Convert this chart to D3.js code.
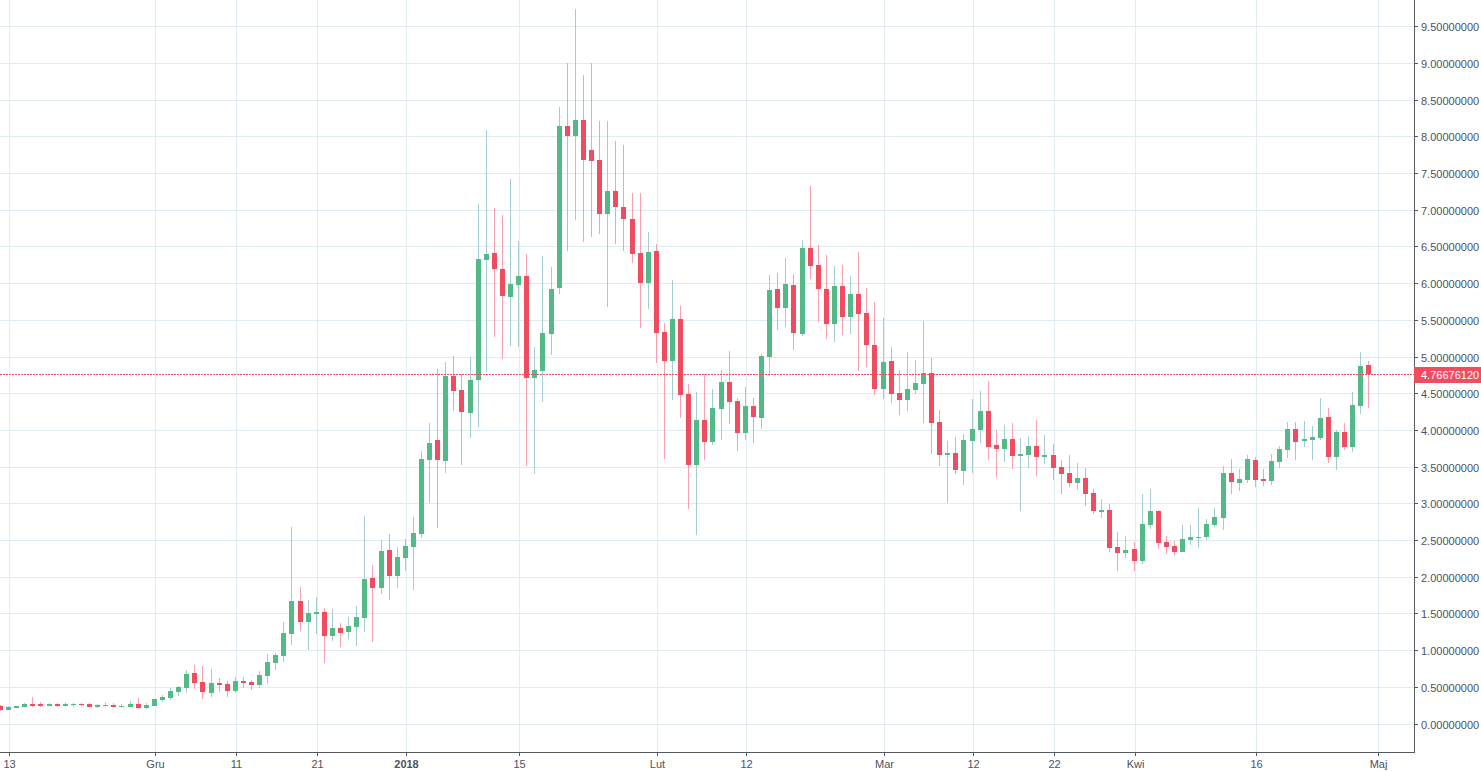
<!DOCTYPE html>
<html><head><meta charset="utf-8">
<script src="https://cdnjs.cloudflare.com/ajax/libs/d3/7.8.5/d3.min.js"></script>
<style>
html,body{margin:0;padding:0;background:#fff;overflow:hidden}
svg{display:block}
text{font-family:"Liberation Sans",Arial,sans-serif;font-size:11px;fill:#4c525e}
</style></head><body>
<svg id="c" width="1481" height="771"></svg>
<script>
// Daily candles, first candle 12 Nov 2017, last 30 Apr 2018
const firstDay = "2017-11-12";
const opens = [.25,.191,.223,.232,.277,.277,.245,.277,.245,.259,.277,.277,.232,.245,.259,.236,.232,.277,.218,.245,.327,.355,.436,.491,.695,.573,.423,.559,.545,.45,.586,.573,.532,.655,.832,.927,1.227,1.677,1.391,1.5,1.527,1.2,1.309,1.255,1.323,1.445,1.991,1.855,2.373,2.018,2.264,2.414,2.591,3.6,3.873,3.586,4.745,4.555,4.241,4.691,6.327,6.423,6.205,5.823,5.986,6.109,4.718,4.814,5.318,5.945,8.155,8.009,8.236,7.818,7.682,6.945,7.268,7.05,6.886,6.423,6.014,6.45,5.345,4.95,5.523,4.5,3.532,4.145,3.845,4.295,4.664,4.405,3.968,4.336,4.173,5.005,5.932,5.673,5.986,5.318,6.491,6.259,5.932,5.455,5.973,5.55,5.864,5.605,5.168,4.568,4.95,4.514,4.418,4.555,4.636,4.786,4.118,3.668,3.695,3.45,3.859,4.009,4.268,3.805,3.75,3.886,3.655,3.668,3.791,3.641,3.668,3.505,3.423,3.286,3.355,3.15,2.891,2.918,2.414,2.332,2.386,2.223,2.714,2.905,2.482,2.427,2.345,2.509,2.536,2.55,2.714,2.809,3.423,3.286,3.327,3.6,3.341,3.314,3.573,3.736,4.023,3.859,3.873,3.9,4.186,3.641,3.982,3.777,4.336,4.895];
const highs = [.255,.245,.25,.286,.373,.3,.286,.286,.3,.282,.286,.282,.277,.3,.286,.277,.314,.359,.286,.345,.395,.491,.518,.736,.805,.791,.75,.627,.586,.641,.641,.6,.723,.955,.968,1.391,2.686,1.868,1.691,1.732,1.582,1.568,1.377,1.459,1.609,2.836,2.168,2.509,2.591,2.414,2.523,2.823,3.723,4.105,4.841,4.936,5.018,4.773,5.005,7.091,8.1,7.036,6.941,7.432,6.586,6.409,5.141,6.382,6.232,8.414,9.0,9.736,8.85,9.0,8.223,8.223,7.95,7.886,7.241,7.241,6.709,6.545,5.468,6.055,5.7,4.636,4.527,4.773,4.568,4.827,5.086,4.445,4.595,4.445,5.045,6.123,6.15,6.355,6.136,6.6,7.336,6.532,6.395,6.245,6.259,6.109,6.436,5.945,5.755,5.536,5.141,4.827,5.073,4.964,5.495,4.991,4.282,3.859,3.914,3.955,4.427,4.541,4.677,4.009,4.077,4.105,3.9,3.927,4.145,3.941,3.818,3.6,3.668,3.559,3.491,3.205,3.068,3.0,2.618,2.564,2.482,3.136,3.205,2.918,2.564,2.495,2.714,2.714,2.945,2.795,2.945,3.518,3.614,3.477,3.668,3.641,3.477,3.682,3.791,4.118,4.118,4.132,4.064,4.445,4.309,4.009,4.105,4.527,5.073,4.95];
const lows = [.182,.191,.223,.232,.232,.232,.245,.232,.245,.236,.25,.232,.218,.232,.232,.232,.232,.205,.205,.245,.3,.327,.382,.423,.477,.341,.368,.436,.368,.423,.491,.464,.491,.545,.736,.845,1.082,1.268,1.009,1.227,.832,1.132,1.05,1.159,1.064,1.255,1.118,1.773,1.691,1.855,2.086,1.827,2.536,3.014,2.673,3.423,4.268,3.532,3.9,4.05,4.8,5.277,4.977,5.155,5.141,3.518,3.409,4.391,5.032,5.864,6.45,6.868,6.573,6.641,6.682,5.686,6.545,6.45,6.286,5.4,5.659,4.923,3.614,4.418,4.173,2.932,2.577,3.6,3.805,3.873,4.091,3.723,3.873,3.832,4.023,4.745,5.373,5.414,5.1,5.291,6.068,5.482,5.25,5.209,5.305,5.318,4.814,4.868,4.486,4.432,4.377,4.214,4.268,4.5,4.105,3.682,3.518,3.014,3.409,3.259,3.414,3.832,3.6,3.364,3.573,3.477,2.905,3.491,3.382,3.545,3.327,3.136,3.232,3.191,2.973,2.864,2.809,2.345,2.086,2.264,2.086,2.182,2.659,2.386,2.318,2.291,2.345,2.441,2.4,2.509,2.686,2.645,3.136,3.177,3.286,3.232,3.245,3.259,3.491,3.627,3.6,3.777,3.6,3.873,3.559,3.464,3.736,3.709,4.227,4.309];
const closes = [.186,.232,.25,.277,.245,.245,.277,.245,.277,.277,.259,.232,.264,.259,.232,.25,.277,.218,.259,.345,.368,.45,.505,.682,.559,.436,.559,.532,.45,.586,.559,.532,.668,.845,.941,1.241,1.677,1.391,1.514,1.527,1.2,1.309,1.241,1.336,1.459,1.977,1.855,2.359,2.018,2.277,2.427,2.605,3.614,3.832,3.6,4.745,4.541,4.255,4.691,6.341,6.409,6.205,5.836,6.0,6.109,4.718,4.827,5.332,5.932,8.155,8.009,8.236,7.682,7.673,6.945,7.268,7.041,6.877,6.409,6.014,6.436,5.332,4.95,5.523,4.486,3.532,4.145,3.845,4.309,4.664,4.391,3.968,4.336,4.186,5.018,5.918,5.673,6.0,5.332,6.491,6.245,5.932,5.455,5.973,5.55,5.864,5.591,5.168,4.568,4.936,4.5,4.418,4.568,4.65,4.786,4.105,3.668,3.695,3.464,3.873,4.023,4.268,3.777,3.75,3.886,3.655,3.682,3.791,3.641,3.668,3.491,3.409,3.286,3.355,3.136,2.905,2.918,2.4,2.332,2.373,2.223,2.727,2.905,2.468,2.414,2.345,2.523,2.55,2.55,2.727,2.823,3.423,3.3,3.341,3.614,3.327,3.314,3.586,3.75,4.023,3.845,3.886,3.914,4.173,3.641,3.982,3.777,4.35,4.882,4.76676];
const lastPrice = 4.7667612;
const priceTicks = [0,.5,1,1.5,2,2.5,3,3.5,4,4.5,5,5.5,6,6.5,7,7.5,8,8.5,9,9.5];
const dayTicks = ["2017-11-13","2017-12-01","2017-12-11","2017-12-21","2018-01-01","2018-01-15","2018-02-01","2018-02-12","2018-03-01","2018-03-12","2018-03-22","2018-04-01","2018-04-16","2018-05-01"];
const dayLabels = ["13","Gru","11","21","2018","15","Lut","12","Mar","12","22","Kwi","16","Maj"];

const W = 1481, H = 771, plotR = 1414, plotB = 752;
const UP = "#53b987", DOWN = "#ef4d5f", UPW = "#a3cdd0", DOWNW = "#f7a0af", GRID = "#e1ecf2", AXIS = "#555a60";
const day = s => new Date(s + "T00:00:00Z");
const x = d3.scaleUtc().domain([day("2017-11-13"), day("2018-04-30")]).range([8.1, 1368.3]);
const y = d3.scaleLinear().domain([0, 9.5]).range([724, 26.8]);
const start = day(firstDay);
const candles = opens.map((o, i) => ({date: d3.utcDay.offset(start, i), o, h: highs[i], l: lows[i], c: closes[i]}));
const tickX = d => Math.round(x(day(d)) + 1.2);
const tickY = d => Math.floor(y(d));

const svg = d3.select("#c");
svg.append("defs").append("clipPath").attr("id", "plot").append("rect").attr("width", plotR).attr("height", plotB);

// grid
const grid = svg.append("g").attr("shape-rendering", "crispEdges").attr("stroke", GRID);
grid.selectAll("line.h").data(priceTicks).join("line").attr("class", "h")
  .attr("x1", 0).attr("x2", plotR).attr("y1", d => tickY(d) + .5).attr("y2", d => tickY(d) + .5);
grid.selectAll("line.v").data(dayTicks).join("line").attr("class", "v")
  .attr("y1", 0).attr("y2", plotB).attr("x1", d => tickX(d) + .5).attr("x2", d => tickX(d) + .5);

// candles
const g = svg.append("g").attr("clip-path", "url(#plot)").attr("shape-rendering", "crispEdges");
const isUp = d => d.c >= d.o;
g.selectAll("line.w").data(candles).join("line").attr("class", "w")
  .attr("x1", d => Math.round(x(d.date)) + .5).attr("x2", d => Math.round(x(d.date)) + .5)
  .attr("y1", d => y(d.h)).attr("y2", d => y(d.l))
  .attr("stroke", d => isUp(d) ? UPW : DOWNW);
g.selectAll("rect.b").data(candles).join("rect").attr("class", "b")
  .attr("x", d => Math.round(x(d.date)) - 2).attr("width", 5)
  .attr("y", d => Math.round(y(Math.max(d.o, d.c))))
  .attr("height", d => Math.max(1, Math.round(y(Math.min(d.o, d.c))) - Math.round(y(Math.max(d.o, d.c)))))
  .attr("fill", d => isUp(d) ? UP : DOWN);

// last price line
svg.append("line").attr("x1", 0).attr("x2", plotR).attr("y1", Math.round(y(lastPrice)) + .5).attr("y2", Math.round(y(lastPrice)) + .5)
  .attr("stroke", DOWN).attr("stroke-dasharray", "2 1").attr("shape-rendering", "crispEdges");

// axes
const yAxis = d3.axisRight(d3.scaleOrdinal().domain(priceTicks).range(priceTicks.map(tickY)))
  .tickValues(priceTicks).tickSize(4).tickPadding(3).tickFormat(d3.format(".8f"));
const ya = svg.append("g").attr("transform", `translate(${plotR},0)`).call(yAxis);
ya.select(".domain").remove();
ya.append("line").attr("x1", .5).attr("x2", .5).attr("y1", 0).attr("y2", plotB + 1).attr("stroke", AXIS).attr("shape-rendering", "crispEdges");
ya.selectAll(".tick line").attr("stroke", AXIS).attr("shape-rendering", "crispEdges");
ya.selectAll("text").attr("fill", "#4c525e").attr("dy", "0.4em").style("font-family", '"Liberation Sans",Arial,sans-serif').style("font-size", "11px");

const xAxis = d3.axisBottom(d3.scaleOrdinal().domain(dayTicks).range(dayTicks.map(tickX)))
  .tickValues(dayTicks).tickSize(4).tickPadding(4).tickFormat((d, i) => dayLabels[i]);
const xa = svg.append("g").attr("transform", `translate(0,${plotB})`).call(xAxis);
xa.select(".domain").remove();
xa.append("line").attr("x1", 0).attr("x2", plotR + 1).attr("y1", .5).attr("y2", .5).attr("stroke", AXIS).attr("shape-rendering", "crispEdges");
xa.selectAll(".tick line").attr("stroke", AXIS).attr("shape-rendering", "crispEdges");
xa.selectAll("text").attr("fill", "#4c525e").style("font-family", '"Liberation Sans",Arial,sans-serif').style("font-size", "11px")
  .attr("font-weight", (d, i) => dayLabels[i] === "2018" ? "bold" : null);

// price label
const tag = svg.append("g").attr("transform", `translate(${plotR},${Math.round(y(lastPrice))})`);
tag.append("rect").attr("x", 0).attr("y", -7).attr("width", W - plotR).attr("height", 16).attr("fill", DOWN);
tag.append("text").attr("x", 7).attr("y", 5).style("fill", "#fff").text(d3.format(".8f")(lastPrice));
</script>
</body></html>
